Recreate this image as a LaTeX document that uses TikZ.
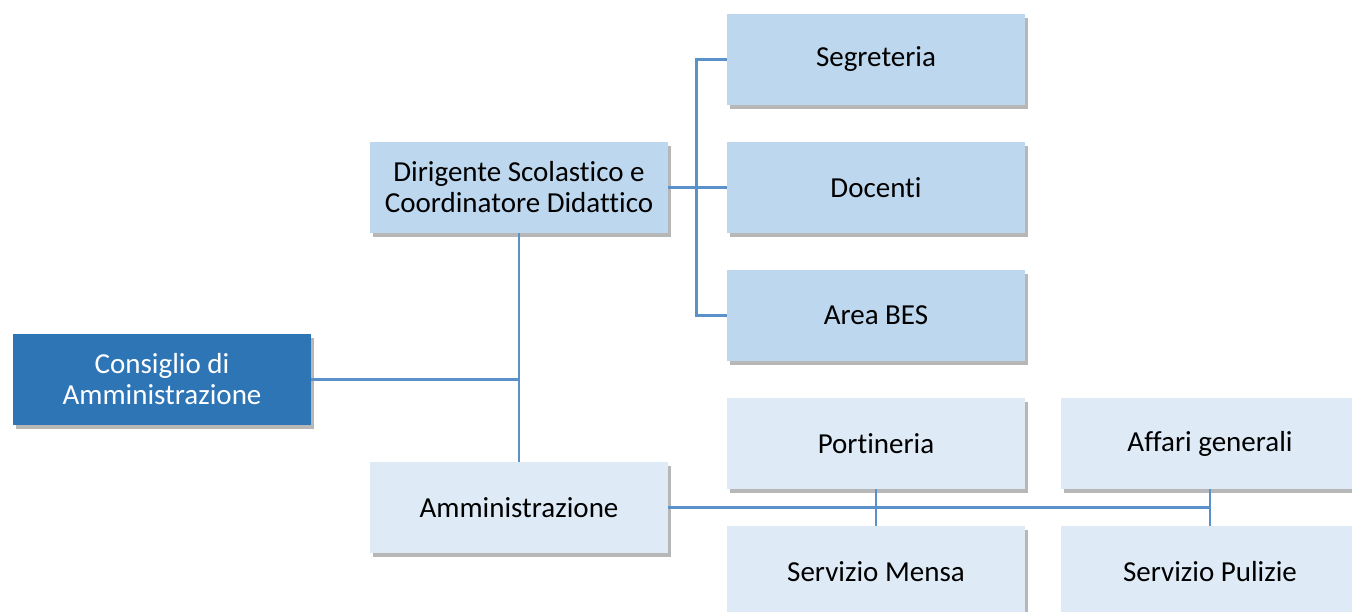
\documentclass[tikz,border=0pt]{standalone}
\usepackage{fontspec}
\setmainfont{Carlito}[Ligatures=CommonOff]
\usepackage{xcolor}
\usetikzlibrary{shadows}
\definecolor{darkblu}{HTML}{2E75B6}
\definecolor{midblu}{HTML}{BDD7EE}
\definecolor{lightblu}{HTML}{DEEBF7}
\definecolor{linkblu}{HTML}{5A91CA}
\tikzset{
    box/.style={minimum width=298pt, minimum height=91pt, inner sep=0pt, align=center,
        font=\fontsize{29}{31}\selectfont,
        drop shadow={shadow xshift=3pt, shadow yshift=-4pt, opacity=0.4, fill=black!70}},
    topbox/.style={box, fill=darkblu, text=white},
    midbox/.style={box, fill=midblu},
    lowbox/.style={box, fill=lightblu},
    link/.style={draw=linkblu, line width=2.8pt}
}
\begin{document}
\begin{tikzpicture}[x=1pt,y=-1pt]
\useasboundingbox (0,0) rectangle (1352,612); % page
\node[topbox] (cda) at (162,379.5) {Consiglio di\\Amministrazione}; % board
\node[midbox] (dir) at (519,187.5) {Dirigente Scolastico e\\Coordinatore Didattico}; % head
\node[midbox] (seg) at (876,59.5) {Segreteria};
\node[midbox] (doc) at (876,187.5) {Docenti};
\node[midbox] (bes) at (876,315.5) {Area BES};
\node[lowbox] (amm) at (519,507.5) {Amministrazione}; % admin
\node[lowbox] (por) at (876,443.5) {Portineria};
\node[lowbox] (aff) at (1210,443.5) {Affari generali};
\node[lowbox] (men) at (876,571.5) {Servizio Mensa};
\node[lowbox] (pul) at (1210,571.5) {Servizio Pulizie};
\coordinate (mid) at (cda.east -| dir.south); % junction on the spine
\draw[link] (cda.east) -- (mid); % board to spine
\draw[link] (dir.south) -- (amm.north); % spine
\draw[link] (dir.east) -- (doc.west); % head to teachers
\draw[link] (seg.west) -- ++(-30,0) |- (bes.west); % staff bracket
\draw[link] (amm.east) -- (amm.east -| aff.south); % admin bus
\draw[link] (por.south) -- (men.north);
\draw[link] (aff.south) -- (pul.north);
\end{tikzpicture}
\end{document}
